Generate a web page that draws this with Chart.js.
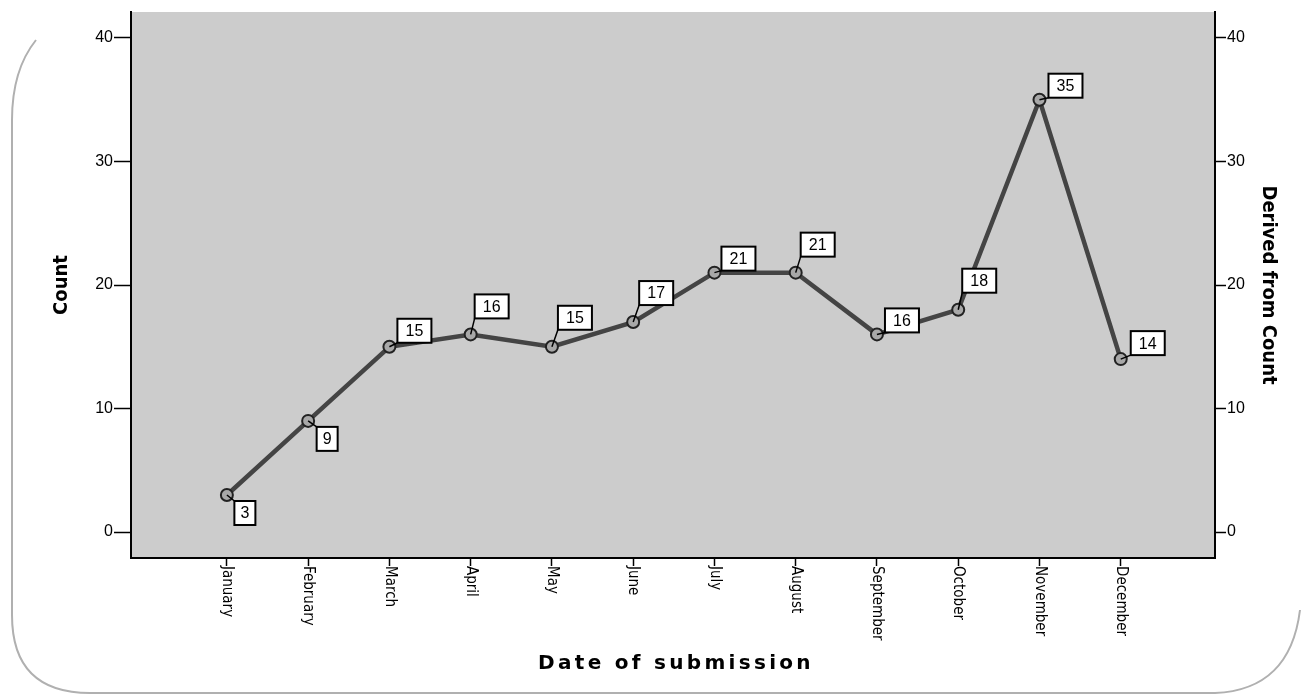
<!DOCTYPE html>
<html>
<head>
<meta charset="utf-8">
<script src="https://cdn.jsdelivr.net/npm/chart.js@4"></script>
<style>
  body { margin: 0; background: #fff; }
  #wrap { width: 1302px; height: 698px; }
</style>
</head>
<body>
<div id="wrap"><canvas id="lineChart" width="1302" height="698"></canvas></div>
<script>
const months = ["January", "February", "March", "April", "May", "June",
  "July", "August", "September", "October", "November", "December"];
const counts = [3, 9, 15, 16, 15, 17, 21, 21, 16, 18, 35, 14];
const yTicks = [0, 10, 20, 30, 40];

// where each value box sits, relative to its point (px)
const boxShift = [[18, 18], [19, 18], [25, -16], [21, -28], [23, -29], [23, -29],
  [24, -14], [22, -28], [25, -14], [21, -29], [26, -14], [27, -16]];

const narrow = "'Liberation Sans Narrow', 'DejaVu Sans Condensed', sans-serif";

let points = counts.map((v, i) => ({ x: i, y: v }));

// grey plot area + rounded frame
const backdrop = {
  id: "backdrop",
  beforeDraw(chart) {
    let { ctx, chartArea } = chart;
    ctx.save();
    ctx.fillStyle = "#cccccc";
    ctx.fillRect(chartArea.left, chartArea.top, chartArea.right - chartArea.left, chartArea.bottom - chartArea.top);
    ctx.strokeStyle = "#b0b0b0";
    ctx.lineWidth = 2;
    ctx.beginPath();
    ctx.moveTo(36, 40);
    ctx.quadraticCurveTo(12, 70, 12, 120);
    ctx.lineTo(12, 615);
    ctx.quadraticCurveTo(12, 693, 90, 693);
    ctx.lineTo(1215, 693);
    ctx.quadraticCurveTo(1290, 690, 1300, 610);
    ctx.stroke();
    ctx.restore();
  },
};

// rotated month labels + x title
const monthLabels = {
  id: "monthLabels",
  afterDraw(chart) {
    let { ctx } = chart;
    let xs = chart.scales.x;
    ctx.save();
    ctx.fillStyle = "#000";
    ctx.font = "15px " + narrow;
    ctx.textAlign = "left";
    ctx.textBaseline = "middle";
    months.forEach((m, i) => {
      let px = xs.getPixelForValue(i);
      ctx.save();
      ctx.translate(px, xs.top + 8);
      ctx.rotate(Math.PI / 2);
      ctx.fillText(m, 0, 0);
      ctx.restore();
    });
    ctx.font = "bold 20px 'DejaVu Sans', sans-serif";
    ctx.letterSpacing = "3.3px";
    ctx.textAlign = "center";
    ctx.fillText("Date of submission", (xs.left + xs.right) / 2 + 3, 664);
    ctx.restore();
  },
};

// boxed value labels with leader lines
const valueBoxes = {
  id: "valueBoxes",
  afterDatasetsDraw(chart) {
    let { ctx } = chart;
    let meta = chart.getDatasetMeta(0);
    ctx.save();
    ctx.font = "16px 'Liberation Sans', Arial, sans-serif";
    ctx.textAlign = "center";
    ctx.textBaseline = "middle";
    meta.data.forEach((pt, i) => {
      let txt = String(counts[i]);
      let w = txt.length > 1 ? 34 : 21;
      let h = 24;
      let cx = pt.x + boxShift[i][0];
      let cy = pt.y + boxShift[i][1];
      let bx = cx - w / 2;
      let by = cy - h / 2;
      let cornerY = boxShift[i][1] < 0 ? by + h : by;
      ctx.strokeStyle = "#000";
      ctx.lineWidth = 1.5;
      ctx.beginPath();
      ctx.moveTo(pt.x, pt.y);
      ctx.lineTo(bx, cornerY);
      ctx.stroke();
      ctx.fillStyle = "#fff";
      ctx.fillRect(bx, by, w, h);
      ctx.lineWidth = 2;
      ctx.strokeRect(bx, by, w, h);
      ctx.fillStyle = "#000";
      ctx.fillText(txt, cx, cy + 1);
    });
    ctx.restore();
  },
};

let yAxis = (pos, width, tickLen, title, pad) => ({
  type: "linear",
  position: pos,
  min: -2.1,
  max: 42.1,
  afterBuildTicks: (s) => { s.ticks = yTicks.map((v) => ({ value: v })); },
  afterFit: (s) => { s.width = width; },
  ticks: { color: "#000", padding: 1, font: { family: "'Liberation Sans', Arial, sans-serif", size: 16 } },
  grid: { drawOnChartArea: false, drawTicks: true, tickLength: tickLen, color: "#000", tickWidth: 1.5 },
  border: { display: true, color: "#000", width: 2 },
  title: { display: true, text: title, color: "#000", padding: { top: pad, bottom: 0 },
    font: { family: narrow, size: 20, weight: "bold" } },
});

var ctx = document.getElementById("lineChart").getContext("2d");
var myChart = new Chart(ctx, {
  type: "line",
  data: {
    datasets: [
      {
        label: "Count",
        data: points,
        borderColor: "#444",
        borderWidth: 4.5,
        pointRadius: 6,
        pointBackgroundColor: "#a8a8a8",
        pointBorderColor: "#222",
        pointBorderWidth: 2,
        tension: 0,
      },
    ],
  },
  options: {
    responsive: false,
    animation: false,
    layout: { padding: { top: 12, left: 0, right: 0, bottom: 0 } },
    plugins: { legend: { display: false }, tooltip: { enabled: false } },
    scales: {
      x: {
        type: "linear",
        position: "bottom",
        min: -1.18,
        max: 12.16,
        afterBuildTicks: (s) => { s.ticks = months.map((m, i) => ({ value: i })); },
        afterFit: (s) => { s.height = 140; },
        ticks: { callback: () => "" },
        grid: { drawOnChartArea: false, drawTicks: true, tickLength: 8, color: "#000", tickWidth: 1.5 },
        border: { display: true, color: "#000", width: 2 },
      },
      y: yAxis("left", 131, 17, "Count", 50),
      y2: yAxis("right", 87, 11, "Derived from Count", 22),
    },
  },
  plugins: [backdrop, monthLabels, valueBoxes],
});
</script>
</body>
</html>
